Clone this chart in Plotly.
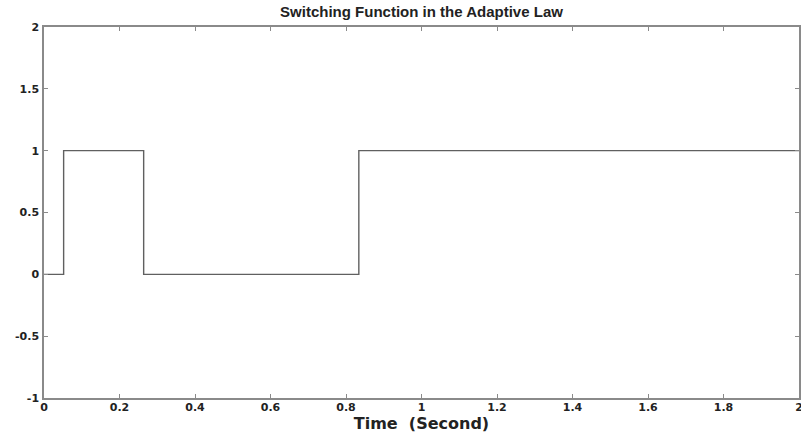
import plotly.graph_objects as go

switch_times = [0.0, 0.052, 0.264, 0.834, 2.0]
switch_values = [0, 1, 0, 1, 1]
x_ticks = [0, 0.2, 0.4, 0.6, 0.8, 1, 1.2, 1.4, 1.6, 1.8, 2]
x_tick_labels = ["0", "0.2", "0.4", "0.6", "0.8", "1", "1.2", "1.4", "1.6", "1.8", "2"]
y_ticks = [-1, -0.5, 0, 0.5, 1, 1.5, 2]
y_tick_labels = ["-1", "-0.5", "0", "0.5", "1", "1.5", "2"]

FONT = "Liberation Sans, Arial, Helvetica"
WIDE = "DejaVu Sans"

fig = go.Figure()
fig.add_trace(go.Scatter(
    x=switch_times, y=switch_values, mode="lines", line_shape="hv",
    line=dict(color="#606060", width=1.4), showlegend=False, hoverinfo="skip"))

axis_common = dict(
    showgrid=False, zeroline=False, showline=True, linecolor="#8a8a8a", linewidth=1.5,
    mirror="ticks", ticks="inside", ticklen=4, tickcolor="#8a8a8a", tickwidth=1,
    tickfont=dict(family=WIDE, size=11, color="#222", weight="bold"),
    automargin=False, ticklabeloverflow="allow",
)

fig.update_layout(
    width=801, height=437,
    margin=dict(l=44, r=2, t=27, b=39),
    paper_bgcolor="white", plot_bgcolor="white",
    title=dict(text="<b>Switching Function in the Adaptive Law</b>", x=0.5, xanchor="center",
               xref="paper", y=1 - 12 / 437, yanchor="middle", automargin=False,
               font=dict(family=FONT, size=15, color="#222")),
    xaxis=dict(range=[0, 2], tickvals=x_ticks, ticktext=x_tick_labels,
               ticklabelstandoff=-2,
               title=dict(text="<b>Time&nbsp;&nbsp;(Second)</b>", standoff=0,
                          font=dict(family=WIDE, size=16, color="#222")),
               **axis_common),
    yaxis=dict(range=[-1, 2], tickvals=y_ticks, ticktext=y_tick_labels,
               ticklabelstandoff=1, **axis_common),
)

fig.write_html("out.html", config={"displayModeBar": False},
               post_script="document.body.style.margin='0';document.body.style.overflow='hidden';")
